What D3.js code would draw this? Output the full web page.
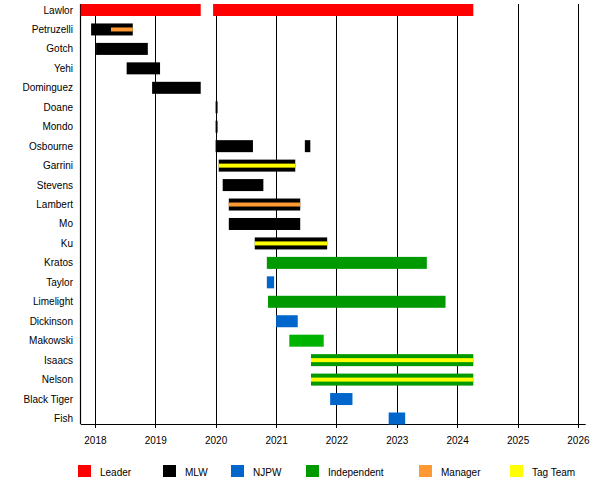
<!DOCTYPE html>
<html>
<head>
<meta charset="utf-8">
<script src="https://cdn.jsdelivr.net/npm/d3@7"></script>
<style>
  body { margin: 0; background: #fff; }
  svg text { font-family: "Liberation Sans", Arial, sans-serif; font-size: 10px; fill: #000; }
</style>
</head>
<body>
<div id="wrapper"></div>
<script>
// rows, top to bottom
let members = ['Lawlor', 'Petruzelli', 'Gotch', 'Yehi', 'Dominguez', 'Doane', 'Mondo', 'Osbourne',
    'Garrini', 'Stevens', 'Lambert', 'Mo', 'Ku', 'Kratos', 'Taylor', 'Limelight', 'Dickinson',
    'Makowski', 'Isaacs', 'Nelson', 'Black Tiger', 'Fish'];

// [member, start, end, group]
let spans = [
    ['Lawlor', '2017-10-07', '2019-10-03', 'leader'],
    ['Lawlor', '2019-12-17', '2024-04-08', 'leader'],
    ['Petruzelli', '2017-12-09', '2018-08-18', 'mlw'],
    ['Gotch', '2018-01-08', '2018-11-17', 'mlw'],
    ['Yehi', '2018-07-12', '2019-01-30', 'mlw'],
    ['Dominguez', '2018-12-13', '2019-10-03', 'mlw'],
    ['Doane', '2020-01-01', '2020-01-13', 'mlw'],
    ['Mondo', '2020-01-01', '2020-01-13', 'mlw'],
    ['Osbourne', '2020-01-01', '2020-08-14', 'mlw'],
    ['Osbourne', '2021-06-24', '2021-07-27', 'mlw'],
    ['Garrini', '2020-01-20', '2021-04-27', 'mlw'],
    ['Stevens', '2020-02-13', '2020-10-16', 'mlw'],
    ['Lambert', '2020-03-21', '2021-05-27', 'mlw'],
    ['Mo', '2020-03-21', '2021-05-27', 'mlw'],
    ['Ku', '2020-08-25', '2021-11-06', 'mlw'],
    ['Kratos', '2020-11-06', '2023-07-02', 'indy'],
    ['Taylor', '2020-11-06', '2020-12-20', 'njpw'],
    ['Limelight', '2020-11-13', '2023-10-23', 'indy'],
    ['Dickinson', '2021-01-01', '2021-05-12', 'njpw'],
    ['Makowski', '2021-03-22', '2021-10-16', 'indy2'],
    ['Isaacs', '2021-07-31', '2024-04-08', 'indy'],
    ['Nelson', '2021-07-31', '2024-04-08', 'indy'],
    ['Black Tiger', '2021-11-24', '2022-04-08', 'njpw'],
    ['Fish', '2022-11-13', '2023-02-21', 'njpw']
];

// thin stripes drawn over the bars
let stripes = [
    ['Petruzelli', '2018-04-08', '2018-08-18', 'manager'],
    ['Garrini', '2020-01-20', '2021-04-27', 'tag'],
    ['Lambert', '2020-03-21', '2021-05-27', 'manager'],
    ['Ku', '2020-08-25', '2021-11-06', 'tag'],
    ['Isaacs', '2021-07-31', '2024-04-08', 'tag'],
    ['Nelson', '2021-07-31', '2024-04-08', 'tag']
];

let legendKeys = ['leader', 'mlw', 'njpw', 'indy', 'manager', 'tag'];
let legendLabels = ['Leader', 'MLW', 'NJPW', 'Independent', 'Manager', 'Tag Team'];
let legendX = [78, 163, 231, 306, 419, 510];

let timeRange = ['2017-10-07', '2026-02-17'];
let yearTicks = [2018, 2019, 2020, 2021, 2022, 2023, 2024, 2025, 2026];

let colorKeeper = {
    'leader': '#ff0000',
    'mlw': '#000000',
    'njpw': '#0066cc',
    'indy': '#009900',
    'indy2': '#00b300',
    'manager': '#ff9933',
    'tag': '#ffff00'
};

let parse = d3.timeParse('%Y-%m-%d');

let svg = d3.select('#wrapper').append('svg')
    .attr('width', 600)
    .attr('height', 483);

let plotTop = 4, plotBottom = 424;

let xScale = d3.scaleTime()
    .domain(timeRange.map(parse))
    .range([80.7, 585.7]);

let yScale = d3.scalePoint()
    .domain(members)
    .range([10, 418.5]);

// grid lines per year, ending in a small tick under the axis
let grid = svg.append('g').classed('grid', true);
grid.selectAll('line').data(yearTicks).enter().append('line')
    .attr('x1', d=> Math.round(xScale(new Date(d, 0, 1))) + 0.5)
    .attr('x2', d=> Math.round(xScale(new Date(d, 0, 1))) + 0.5)
    .attr('y1', plotTop)
    .attr('y2', plotBottom + 4)
    .attr('stroke', '#000')
    .attr('stroke-width', 1);

// x axis
let axis = d3.axisBottom(xScale)
    .tickValues(yearTicks.map(y=> new Date(y, 0, 1)))
    .tickFormat(d3.timeFormat('%Y'))
    .tickSize(0)
    .tickPadding(13);
let axisG = svg.append('g').attr('transform', 'translate(0,' + plotBottom + ')').call(axis);
axisG.select('.domain').remove();
axisG.selectAll('text').style('font-size', '10px').style('font-family', '"Liberation Sans", Arial, sans-serif');

svg.append('line')
    .attr('x1', 80.7).attr('x2', 585.7)
    .attr('y1', plotBottom + 0.5).attr('y2', plotBottom + 0.5)
    .attr('stroke', '#000').attr('stroke-width', 1.2);
svg.append('line')
    .attr('x1', 80.5).attr('x2', 80.5)
    .attr('y1', plotTop).attr('y2', plotBottom)
    .attr('stroke', '#000').attr('stroke-width', 1.2);

// bars
let barH = 12;
svg.append('g').classed('bars', true)
    .selectAll('rect').data(spans).enter().append('rect')
    .attr('x', d=> xScale(parse(d[1])))
    .attr('width', d=> xScale(parse(d[2])) - xScale(parse(d[1])))
    .attr('y', d=> yScale(d[0]) - barH / 2)
    .attr('height', barH)
    .attr('fill', d=> colorKeeper[d[3]]);

let stripeH = 4;
svg.append('g').classed('stripes', true)
    .selectAll('rect').data(stripes).enter().append('rect')
    .attr('x', d=> xScale(parse(d[1])))
    .attr('width', d=> xScale(parse(d[2])) - xScale(parse(d[1])))
    .attr('y', d=> yScale(d[0]) - stripeH / 2)
    .attr('height', stripeH)
    .attr('fill', d=> colorKeeper[d[3]]);

// row labels
svg.append('g').classed('labels', true)
    .selectAll('text').data(members).enter().append('text')
    .attr('x', 73)
    .attr('y', d=> yScale(d) + 3.5)
    .attr('text-anchor', 'end')
    .text(d=> d);

// legend
let legend = svg.append('g').classed('legend', true)
    .selectAll('g').data(legendKeys).enter().append('g')
    .attr('transform', (d, i)=> 'translate(' + legendX[i] + ',465)');
legend.append('rect')
    .attr('width', 13).attr('height', 12)
    .attr('fill', d=> colorKeeper[d]);
legend.append('text')
    .attr('x', 22).attr('y', 10.5)
    .text((d, i)=> legendLabels[i]);
</script>
</body>
</html>
